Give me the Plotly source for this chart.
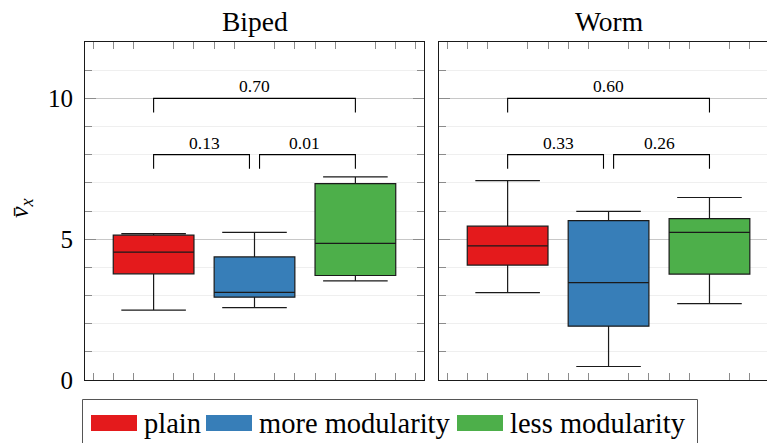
import plotly.graph_objects as go

# ---------------- data ----------------
panels = ["Biped", "Worm"]
series = ["plain", "more modularity", "less modularity"]
colors = ["#e41a1c", "#377eb8", "#4daf4a"]

biped_lower = [2.48, 2.57, 3.52]
biped_q1 = [3.77, 2.94, 3.71]
biped_median = [4.54, 3.11, 4.85]
biped_q3 = [5.14, 4.37, 6.97]
biped_upper = [5.20, 5.24, 7.21]

worm_lower = [3.10, 0.48, 2.71]
worm_q1 = [4.08, 1.91, 3.76]
worm_median = [4.76, 3.46, 5.24]
worm_q3 = [5.46, 5.66, 5.73]
worm_upper = [7.08, 5.99, 6.48]

# significance brackets: (first box, second box) and level
bracket_pairs = [(0, 2), (0, 1), (1, 2)]
bracket_levels = [10.0, 8.0, 8.0]
biped_pvalues = ["0.70", "0.13", "0.01"]
worm_pvalues = ["0.60", "0.33", "0.26"]

y_tick_values = [0, 5, 10]

# ---------------- layout geometry ----------------
W, H = 767, 443
ML, MR, MT, MB = 85, 0, 42, 63
PW = W - ML - MR
PH = H - MT - MB
LEFT_END = 424
RIGHT_START = 439


def px(x):
    return (x - ML) / PW


def py(y):
    return (H - MB - y) / PH


FONT = "'Liberation Serif', 'DejaVu Serif', serif"
LINE = "#1a1a1a"
TICK = "#8c8c8c"

fig = go.Figure()

data_sets = [
    (biped_lower, biped_q1, biped_median, biped_q3, biped_upper, biped_pvalues, "x", "y"),
    (worm_lower, worm_q1, worm_median, worm_q3, worm_upper, worm_pvalues, "x2", "y2"),
]

for lo, q1, med, q3, up, pv, xa, ya in data_sets:
    for i, name in enumerate(series):
        fig.add_trace(go.Box(
            x=[i], q1=[q1[i]], median=[med[i]], q3=[q3[i]],
            lowerfence=[lo[i]], upperfence=[up[i]],
            width=0.8, whiskerwidth=0.8, boxpoints=False,
            fillcolor=colors[i], line=dict(color=LINE, width=1.2),
            name=name, showlegend=False, xaxis=xa, yaxis=ya,
            hoverinfo="skip",
        ))
    for (a, b), lvl, label in zip(bracket_pairs, bracket_levels, pv):
        x0, x1 = a, b
        if b - a == 1:
            if a == 0:
                x1 = b - 0.05
            else:
                x0 = a + 0.05
        fig.add_trace(go.Scatter(
            x=[x0, x0, x1, x1], y=[lvl - 0.5, lvl, lvl, lvl - 0.5],
            mode="lines", line=dict(color="black", width=1.1),
            showlegend=False, xaxis=xa, yaxis=ya, hoverinfo="skip",
        ))
        fig.add_annotation(
            x=(a + b) / 2, y=lvl, xref=xa, yref=ya, text=label,
            showarrow=False, xanchor="center", yanchor="bottom", yshift=0,
            font=dict(family=FONT, size=17.5, color="black"),
        )

x_ticks = [round(-0.6 + 0.2 * k, 1) for k in range(17)]
x_ticks = [t for t in x_ticks if abs(t - round(t)) > 1e-6]

common_x = dict(
    showgrid=False, zeroline=False, showline=True, linecolor=LINE, linewidth=1,
    mirror="ticks", ticks="inside", ticklen=7, tickcolor=TICK, tickwidth=1,
    tickvals=x_ticks, showticklabels=False,
)
common_y = dict(
    range=[0, 12], zeroline=False, showline=True, linecolor=LINE, linewidth=1,
    ticks="inside", ticklen=11, tickcolor=TICK, tickwidth=1,
    tickvals=y_tick_values, showgrid=True, gridcolor="#c8c8c8", gridwidth=1,
    minor=dict(dtick=1, ticks="inside", ticklen=7, tickcolor=TICK,
               showgrid=True, gridcolor="#efefef", gridwidth=1),
)

fig.update_layout(
    width=W, height=H,
    margin=dict(l=ML, r=MR, t=MT, b=MB, pad=0),
    paper_bgcolor="white", plot_bgcolor="white",
    showlegend=False,
    font=dict(family=FONT),
    xaxis=dict(domain=[0, px(LEFT_END)], range=[-0.68, 2.68], **common_x),
    xaxis2=dict(domain=[px(RIGHT_START), 1], range=[-0.68, 2.57], **common_x),
    yaxis=dict(anchor="x", mirror="ticks", showticklabels=True,
               tickfont=dict(family=FONT, size=25, color="black"),
               ticklabelstandoff=6, **common_y),
    yaxis2=dict(anchor="x2", mirror=False, showticklabels=False, **common_y),
)

# panel titles
fig.add_annotation(x=0.5 * (0 + px(LEFT_END)), y=py(22), xref="paper", yref="paper",
                   text=panels[0], showarrow=False, xanchor="center", yanchor="middle",
                   font=dict(family=FONT, size=27.5, color="black"))
fig.add_annotation(x=1, y=py(22), xref="x2", yref="paper",
                   text=panels[1], showarrow=False, xanchor="center", yanchor="middle",
                   font=dict(family=FONT, size=27.5, color="black"))

# y-axis label
fig.add_annotation(x=px(21), y=py(208), xref="paper", yref="paper",
                   text="<i>v\u0304</i><sub><i>x</i></sub>", textangle=-90,
                   showarrow=False, xanchor="center", yanchor="middle",
                   font=dict(family=FONT, size=26, color="black"))

# legend (drawn manually)
fig.add_shape(type="rect", xref="paper", yref="paper",
              x0=px(82.5), x1=px(697.5), y0=py(447), y1=py(399.5),
              line=dict(color="#555555", width=1), fillcolor="white", layer="above")
legend_rect_x = [91, 206, 457]
legend_text_x = [142, 257, 508]
for i, name in enumerate(series):
    fig.add_shape(type="rect", xref="paper", yref="paper",
                  x0=px(legend_rect_x[i]), x1=px(legend_rect_x[i] + 46),
                  y0=py(431), y1=py(415), line=dict(width=0),
                  fillcolor=colors[i], layer="above")
    fig.add_annotation(x=px(legend_text_x[i]), y=py(423), xref="paper", yref="paper",
                       text=name, showarrow=False, xanchor="left", yanchor="middle",
                       font=dict(family=FONT, size=28.5, color="black"))

fig.write_html(
    "out.html",
    config={"displayModeBar": False},
    post_script="document.body.style.margin='0';document.body.style.padding='0';",
)
